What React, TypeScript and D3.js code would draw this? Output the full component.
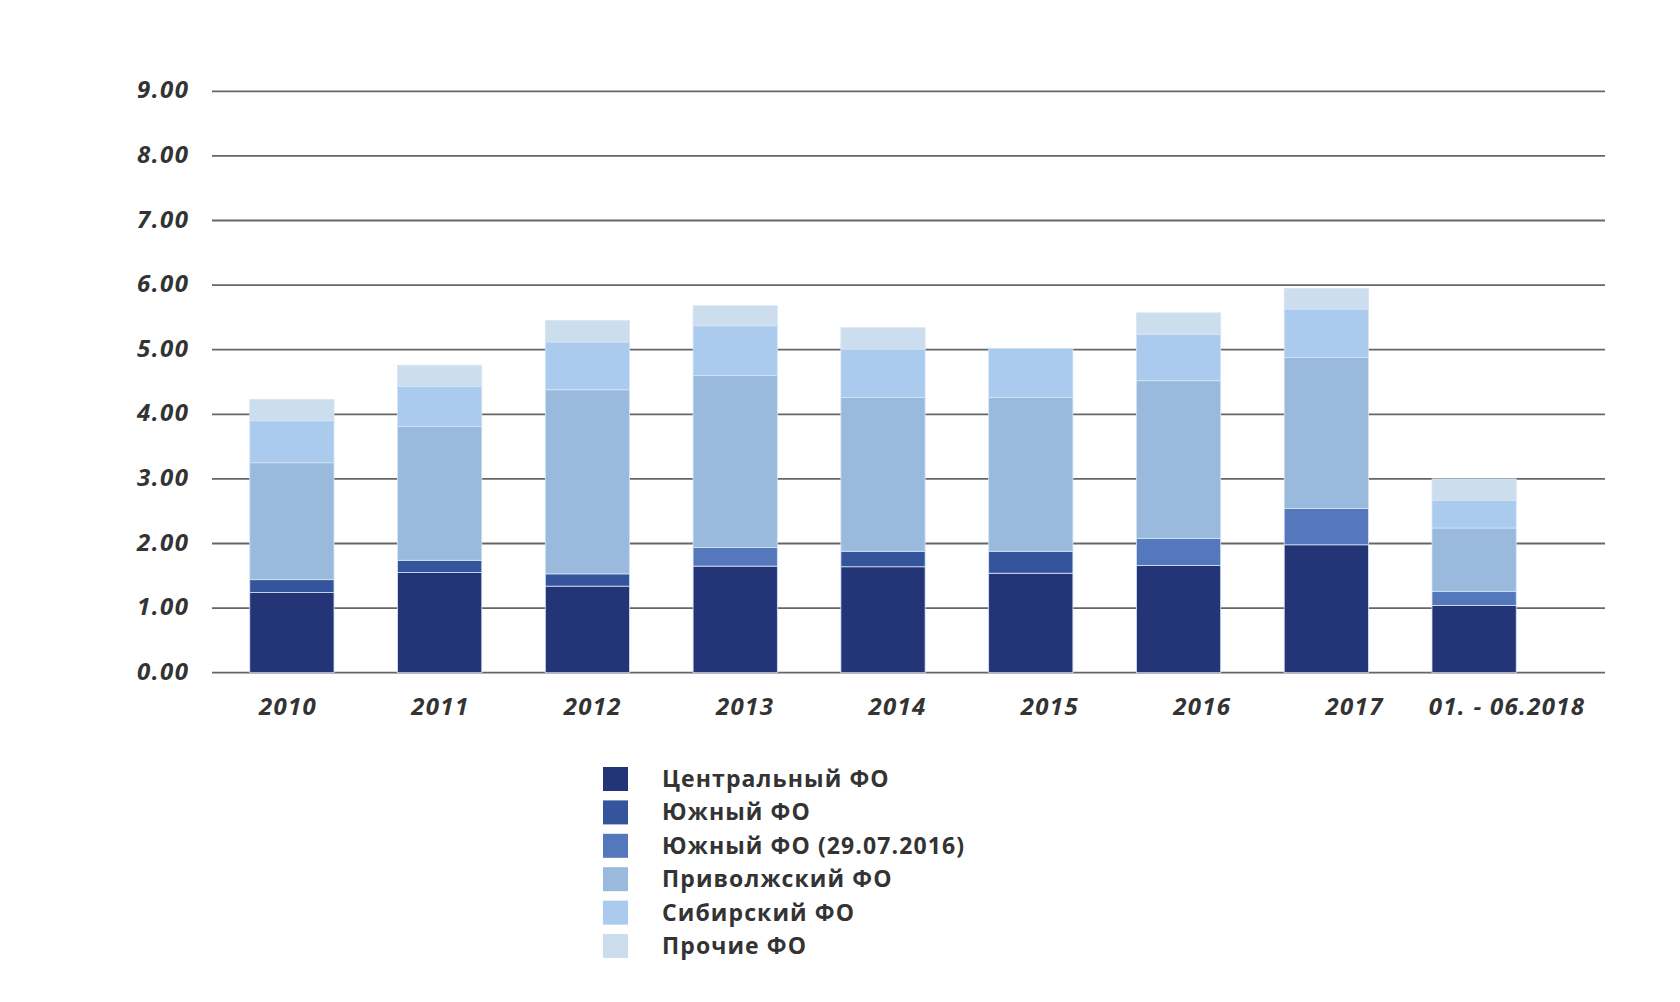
import React from "react";
import * as d3 from "d3";

const categories = ["2010", "2011", "2012", "2013", "2014", "2015", "2016", "2017", "01. - 06.2018"];
const seriesNames = [
  "Центральный ФО",
  "Южный ФО",
  "Южный ФО (29.07.2016)",
  "Приволжский ФО",
  "Сибирский ФО",
  "Прочие ФО",
];
const central = [1.24, 1.55, 1.34, 1.65, 1.64, 1.54, 1.66, 1.98, 1.04];
const southern = [0.2, 0.19, 0.19, 0, 0.24, 0.34, 0, 0, 0];
const southern2016 = [0, 0, 0, 0.29, 0, 0, 0.42, 0.56, 0.22];
const privolzh = [1.81, 2.07, 2.85, 2.66, 2.38, 2.38, 2.44, 2.34, 0.98];
const siberian = [0.65, 0.62, 0.74, 0.77, 0.75, 0.76, 0.72, 0.75, 0.43];
const others = [0.33, 0.33, 0.33, 0.31, 0.33, 0, 0.33, 0.32, 0.33];
const yTicks = [0, 1, 2, 3, 4, 5, 6, 7, 8, 9];
const colors = ["#233477", "#34559b", "#5577bb", "#99badd", "#aacbee", "#ccddee"];

const seriesValues = [central, southern, southern2016, privolzh, siberian, others];

export default function App() {
  const W = 1680;
  const H = 1002;
  const gridLeft = 212;
  const gridRight = 1605;

  const y = d3.scaleLinear().domain([0, 9]).range([672.7, 91.3]);
  const x = d3
    .scaleBand<string>()
    .domain(categories)
    .range([218, 1548])
    .paddingInner(0.43)
    .paddingOuter(0.215);
  // category labels sit on their own, slightly wider spacing
  const xLabel = d3.scalePoint<string>().domain(categories).range([288, 1507]);

  const rows = categories.map((c, i) => {
    const r: Record<string, any> = { cat: c };
    seriesNames.forEach((s, k) => (r[s] = seriesValues[k][i]));
    return r;
  });
  const stacked = d3.stack<any>().keys(seriesNames)(rows);

  const font = "'Open Sans', 'DejaVu Sans', sans-serif";

  return (
    <svg
      width={W}
      height={H}
      style={{ position: "absolute", left: 0, top: 0, background: "#fff" }}
    >
      {yTicks.map((t) => (
        <g key={t}>
          <line
            x1={gridLeft}
            x2={gridRight}
            y1={y(t)}
            y2={y(t)}
            stroke="#666"
            strokeWidth={1.8}
          />
          <text
            x={189.5}
            y={y(t) + 7}
            textAnchor="end"
            fontFamily={font}
            fontWeight={700}
            fontStyle="italic"
            fontSize={24}
            letterSpacing={1.5}
            fill="#333"
          >
            {d3.format(".2f")(t)}
          </text>
        </g>
      ))}
      {stacked.map((layer, k) => (
        <g key={layer.key} fill={colors[k]}>
          {layer.map((d, i) =>
            d[1] - d[0] > 0 ? (
              <rect
                key={i}
                x={x(categories[i])}
                width={x.bandwidth()}
                y={y(d[1])}
                height={y(d[0]) - y(d[1])}
                stroke="#d6e4f4"
                strokeWidth={0.8}
              />
            ) : null
          )}
        </g>
      ))}
      {categories.map((c) => (
        <text
          key={c}
          x={xLabel(c)}
          y={715}
          textAnchor="middle"
          fontFamily={font}
          fontWeight={700}
          fontStyle="italic"
          fontSize={24}
          letterSpacing={1.3}
          fill="#333"
        >
          {c}
        </text>
      ))}
      {seriesNames.map((s, k) => (
        <g key={s} transform={`translate(603, ${767 + k * 33.4})`}>
          <rect width={25} height={24} fill={colors[k]} />
          <text
            x={59}
            y={20}
            fontFamily={font}
            fontWeight={700}
            fontSize={23}
            letterSpacing={1.1}
            fill="#333"
          >
            {s}
          </text>
        </g>
      ))}
    </svg>
  );
}
